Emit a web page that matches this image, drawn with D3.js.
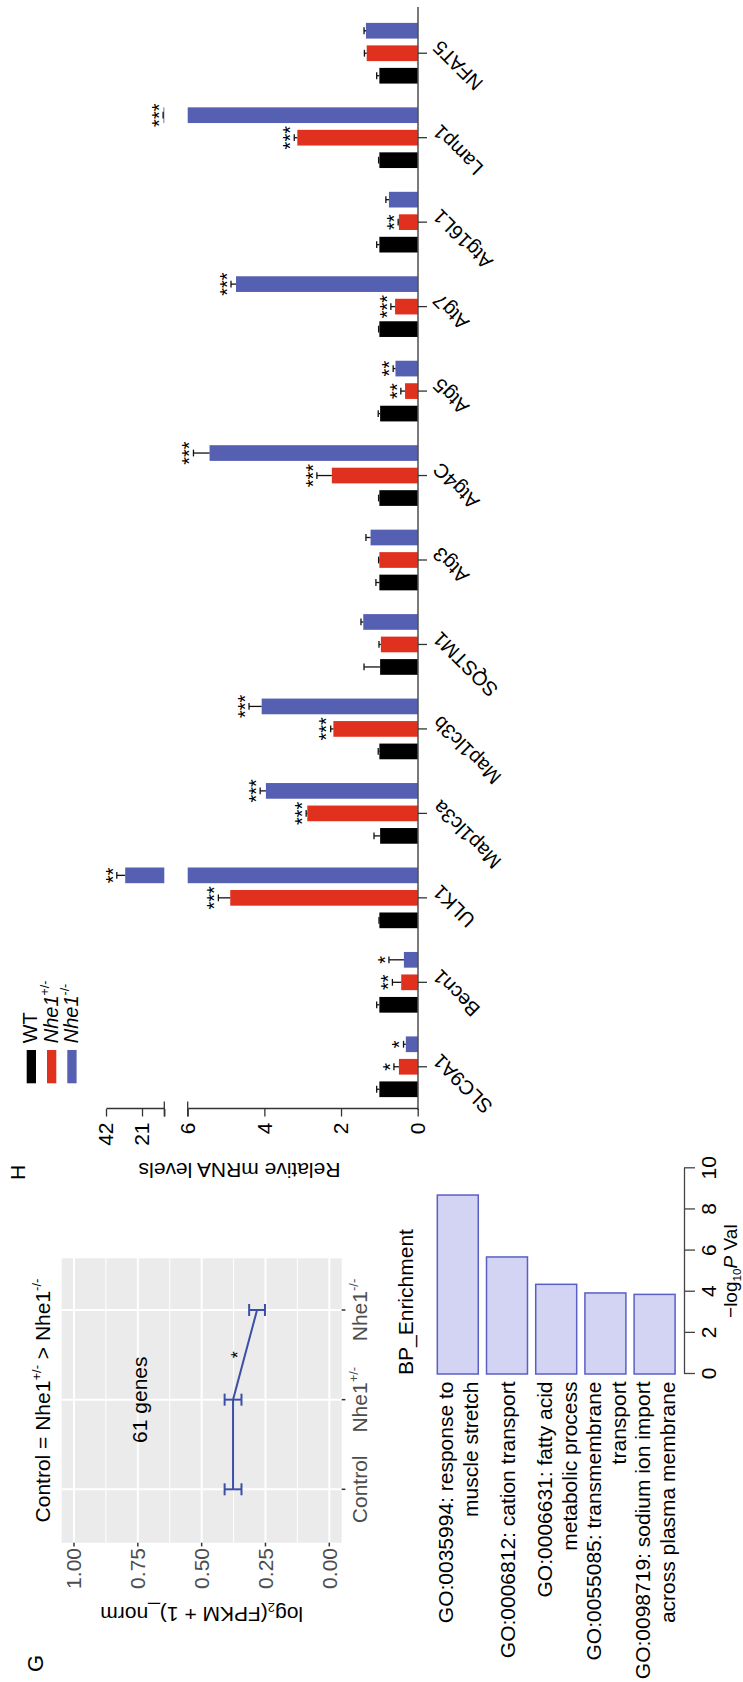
<!DOCTYPE html>
<html><head><meta charset="utf-8">
<script src="https://cdn.jsdelivr.net/npm/d3@7"></script>
<style>html,body{margin:0;padding:0;background:#fff;} svg{display:block;}</style>
</head><body>
<svg id="fig" width="743" height="1682"></svg>
<script>
// ---------- Panel H data ----------
const genes = ["SLC9A1","Becn1","ULK1","Map1lc3a","Map1lc3b","SQSTM1","Atg3","Atg4C","Atg5","Atg7","Atg16L1","Lamp1","NFAT5"];
const seriesNames = ["WT","Nhe1+/-","Nhe1-/-"];
const wtMean  = [1.00,1.00,1.00,0.98,1.00,0.98,1.00,1.00,0.98,1.00,1.00,1.00,1.00];
const wtErr   = [0.07,0.07,0.01,0.16,0.03,0.42,0.09,0.02,0.05,0.02,0.07,0.02,0.07];
const hetMean = [0.49,0.43,4.89,2.88,2.20,0.96,1.00,2.24,0.33,0.59,0.49,3.14,1.33];
const hetErr  = [0.13,0.23,0.31,0.03,0.07,0.05,0.02,0.39,0.11,0.11,0.02,0.08,0.06];
const koMean  = [0.31,0.36,30.8,3.96,4.07,1.42,1.23,5.43,0.58,4.74,0.75,8.5,1.35];
const koErr   = [0.06,0.39,4.9,0.15,0.33,0.06,0.12,0.42,0.06,0.13,0.08,0.2,0.05];
const hetSig  = ["*","**","***","***","***","","","***","**","***","**","***",""];
const koSig   = ["*","*","**","***","***","","","***","**","***","","***",""];
const lowTicks = [0,2,4,6];
const highTicks = [8,21,42];

// ---------- Panel G data ----------
const gCats = ["Control","Nhe1+/-","Nhe1-/-"];
const gMean = [0.377,0.377,0.283];
const gErr  = [0.033,0.033,0.031];
const gTicks = [0,0.25,0.5,0.75,1.0];
const gMinor = [0.125,0.375,0.625,0.875];
const gNote = "61 genes";

// ---------- BP enrichment data ----------
const bpTerms = [
  ["GO:0035994: response to","muscle stretch"],
  ["GO:0006812: cation transport"],
  ["GO:0006631: fatty acid","metabolic process"],
  ["GO:0055085: transmembrane","transport"],
  ["GO:0098719: sodium ion import","across plasma membrane"]
];
const bpValues = [8.70,5.69,4.36,3.94,3.87];
const bpTicks = [0,2,4,6,8,10];

const FONT = "'Liberation Sans', Arial, Helvetica, sans-serif";
const RED = "#E0311F", BLUE = "#5560B3";
const svg = d3.select("#fig");
svg.append("rect").attr("width",743).attr("height",1682).attr("fill","#fff");
const root = svg.append("g").attr("transform","translate(0,1682) rotate(-90)").attr("font-family",FONT);

function rich(sel, parts, size){
  parts.forEach(p=>{
    const t = sel.append("tspan").text(p.t);
    if (p.it) t.attr("font-style","italic");
    if (p.sup){ t.attr("font-size", size*0.62).attr("dy", -size*0.42); }
    else if (p.sub){ t.attr("font-size", size*0.62).attr("dy", size*0.2); }
    if (p.back) t.attr("dy", p.back);
  });
}
function supParts(label, italic){
  if (label.startsWith("Nhe1")) return [{t:"Nhe1",it:italic},{t:label.slice(4),sup:true}];
  return [{t:label}];
}

// ================= Panel H =================
const H = root.append("g");
const xH = d3.scaleBand().domain(genes).range([573,1671]);
const off = d3.scalePoint().domain(seriesNames).range([-22.5,22.5]);
const yLow = d3.scaleLinear().domain([0,6]).range([417.7,187.7]);
const yHigh = d3.scaleLinear().domain([8,42]).range([164.3,106]);
const yH = v => v <= 6 ? yLow(v) : yHigh(Math.max(v,8));
const barW = 15.7;
const series = [
  {name:"WT", mean:wtMean, err:wtErr, sig:null, color:"#000"},
  {name:"Nhe1+/-", mean:hetMean, err:hetErr, sig:hetSig, color:RED},
  {name:"Nhe1-/-", mean:koMean, err:koErr, sig:koSig, color:BLUE}
];
series.forEach(s=>{
  genes.forEach((g,i)=>{
    const cx = xH(g) + xH.bandwidth()/2 + off(s.name);
    const v = s.mean[i];
    if (v <= 6){
      H.append("rect").attr("x",cx-barW/2).attr("y",yLow(v)).attr("width",barW).attr("height",yLow(0)-yLow(v)).attr("fill",s.color);
    } else {
      H.append("rect").attr("x",cx-barW/2).attr("y",yLow(6)).attr("width",barW).attr("height",yLow(0)-yLow(6)).attr("fill",s.color);
      H.append("rect").attr("x",cx-barW/2).attr("y",yHigh(v)).attr("width",barW).attr("height",yHigh(8)-yHigh(v)).attr("fill",s.color);
    }
    const top = yH(v), tip = yH(v + s.err[i]);
    H.append("line").attr("x1",cx).attr("x2",cx).attr("y1",top).attr("y2",tip).attr("stroke","#111").attr("stroke-width",1.3);
    H.append("line").attr("x1",cx-3.4).attr("x2",cx+3.4).attr("y1",tip).attr("y2",tip).attr("stroke","#111").attr("stroke-width",1.3);
    if (s.sig && s.sig[i]){
      H.append("text").attr("x",cx).attr("y",tip+2.7).attr("text-anchor","middle").attr("font-size",20).text(s.sig[i]);
    }
  });
});
function styleAxis(g, size){
  g.attr("font-family",FONT).attr("font-size",size);
  g.selectAll("text").attr("fill","#000");
  g.selectAll("path,line").attr("stroke","#333").attr("stroke-width",1.3);
}
const axL = H.append("g").attr("transform","translate(573,0)")
  .call(d3.axisLeft(yLow).tickValues(lowTicks).tickSize(7.5).tickSizeOuter(0).tickPadding(6).tickFormat(d3.format("d")));
styleAxis(axL,21);
const axU = H.append("g").attr("transform","translate(573,0)")
  .call(d3.axisLeft(yHigh).tickValues(highTicks).tickSize(7.5).tickSizeOuter(0).tickPadding(6).tickFormat(d=>d===8?"":d));
styleAxis(axU,21);
[yLow(6), yHigh(8)].forEach(y=>{
  H.append("line").attr("x1",565.5).attr("x2",580.5).attr("y1",y).attr("y2",y).attr("stroke","#333").attr("stroke-width",1.3);
});
H.append("line").attr("x1",572).attr("x2",1675).attr("y1",418).attr("y2",418).attr("stroke","#333").attr("stroke-width",1.3);
genes.forEach(g=>{
  const cx = xH(g)+xH.bandwidth()/2;
  H.append("line").attr("x1",cx).attr("x2",cx).attr("y1",418).attr("y2",427).attr("stroke","#333").attr("stroke-width",1.3);
  H.append("text").attr("transform",`translate(${cx+4},431) rotate(-45)`).attr("text-anchor","end")
    .attr("dy","0.72em").attr("font-size",20).text(g);
});
H.append("text").attr("transform","translate(519,239.5) rotate(-90)").attr("text-anchor","middle").attr("font-size",21).text("Relative mRNA levels");
H.append("text").attr("x",502).attr("y",25).attr("font-size",21).text("H");
const legY = d3.scalePoint().domain(seriesNames).range([26.7,67.3]);
series.forEach(s=>{
  H.append("rect").attr("x",598.7).attr("y",legY(s.name)).attr("width",33.3).attr("height",9.3).attr("fill",s.color);
  const t = H.append("text").attr("x",638.7).attr("y",legY(s.name)+10.5).attr("font-size",20);
  rich(t, supParts(s.name,true), 20);
});

// ================= Panel G =================
const G = root.append("g");
const px0=139.3, px1=423.7, py0=61.7, py1=341.7;
const xG = d3.scalePoint().domain(gCats).range([192.7,372]);
const yG = d3.scaleLinear().domain([0,1]).range([329.3,74]);
G.append("rect").attr("x",px0).attr("y",py0).attr("width",px1-px0).attr("height",py1-py0).attr("fill","#EBEBEB");
gMinor.forEach(v=>G.append("line").attr("x1",px0).attr("x2",px1).attr("y1",yG(v)).attr("y2",yG(v)).attr("stroke","#fff").attr("stroke-width",1));
gTicks.forEach(v=>G.append("line").attr("x1",px0).attr("x2",px1).attr("y1",yG(v)).attr("y2",yG(v)).attr("stroke","#fff").attr("stroke-width",2));
gCats.forEach(c=>G.append("line").attr("x1",xG(c)).attr("x2",xG(c)).attr("y1",py0).attr("y2",py1).attr("stroke","#fff").attr("stroke-width",2));
const gData = gCats.map((c,i)=>({c, v:gMean[i], e:gErr[i]}));
const GC = "#3C4FA6";
G.append("path").attr("d", d3.line().x(d=>xG(d.c)).y(d=>yG(d.v))(gData)).attr("fill","none").attr("stroke",GC).attr("stroke-width",2);
gData.forEach(d=>{
  const x=xG(d.c);
  G.append("line").attr("x1",x).attr("x2",x).attr("y1",yG(d.v-d.e)).attr("y2",yG(d.v+d.e)).attr("stroke",GC).attr("stroke-width",2);
  [d.v-d.e,d.v+d.e].forEach(v=>G.append("line").attr("x1",x-6).attr("x2",x+6).attr("y1",yG(v)).attr("y2",yG(v)).attr("stroke",GC).attr("stroke-width",2));
});
G.append("text").attr("x",(xG(gCats[1])+xG(gCats[2]))/2).attr("y",yG(0.335)).attr("text-anchor","middle").attr("font-size",18).text("*");
G.append("text").attr("x",xG(gCats[1])).attr("y",yG(0.75)).attr("dy","0.42em").attr("text-anchor","middle").attr("font-size",21).text(gNote);
gTicks.forEach(v=>{
  G.append("line").attr("x1",px0-3.7).attr("x2",px0).attr("y1",yG(v)).attr("y2",yG(v)).attr("stroke","#333").attr("stroke-width",1.5);
  G.append("text").attr("x",134).attr("y",yG(v)).attr("dy","0.35em").attr("text-anchor","end").attr("font-size",21).attr("fill","#4D4D4D").text(d3.format(".2f")(v));
});
gCats.forEach(c=>{
  G.append("line").attr("x1",xG(c)).attr("x2",xG(c)).attr("y1",py1).attr("y2",py1+3.7).attr("stroke","#333").attr("stroke-width",1.5);
  const t = G.append("text").attr("x",xG(c)).attr("y",367).attr("text-anchor","middle").attr("font-size",21).attr("fill","#4D4D4D");
  rich(t, supParts(c,false), 21);
});
{
  const t = G.append("text").attr("transform",`translate(75,${(py0+py1)/2}) rotate(-90)`).attr("text-anchor","middle").attr("font-size",21);
  rich(t,[{t:"log"},{t:"2",sub:true},{t:"(FPKM + 1)_norm",back:-21*0.2}],21);
}
{
  const t = G.append("text").attr("x",(px0+px1)/2).attr("y",50).attr("text-anchor","middle").attr("font-size",21);
  rich(t,[{t:"Control = Nhe1"},{t:"+/-",sup:true},{t:" > Nhe1",back:21*0.42},{t:"-/-",sup:true}],21);
}
G.append("text").attr("x",10).attr("y",43).attr("font-size",22).text("G");

// ================= BP enrichment =================
const B = root.append("g");
const xB = d3.scaleLinear().domain([0,10]).range([308,513.7]);
const yB = d3.scaleBand().domain(bpTerms.map(d=>d[0])).range([433.2,679.2]).paddingInner(0.167).paddingOuter(0.0835);
bpTerms.forEach((lines,i)=>{
  const y = yB(lines[0]);
  B.append("rect").attr("x",xB(0)).attr("y",y).attr("width",xB(bpValues[i])-xB(0)).attr("height",yB.bandwidth())
    .attr("fill","#D3D3F3").attr("stroke","#5A5FC4").attr("stroke-width",1.5);
  const cy = y + yB.bandwidth()/2;
  lines.forEach((ln,j)=>{
    B.append("text").attr("x",300.5).attr("y",cy+8-(lines.length-1)*12.5+j*25).attr("text-anchor","end").attr("font-size",21).text(ln);
  });
});
const axB = B.append("g").attr("transform","translate(0,684)")
  .call(d3.axisBottom(xB).tickValues(bpTicks).tickSize(11).tickSizeOuter(0).tickPadding(6.5).tickFormat(d3.format("d")));
styleAxis(axB,21);
axB.selectAll("path,line").attr("stroke","#444");
{
  const t = B.append("text").attr("x",(xB(0)+xB(10))/2).attr("y",737).attr("text-anchor","middle").attr("font-size",19);
  rich(t,[{t:"\u2212log"},{t:"10",sub:true},{t:"P",it:true,back:-19*0.2},{t:" Val"}],19);
}
B.append("text").attr("x",307).attr("y",413).attr("font-size",21).text("BP_Enrichment");
</script>
</body></html>
